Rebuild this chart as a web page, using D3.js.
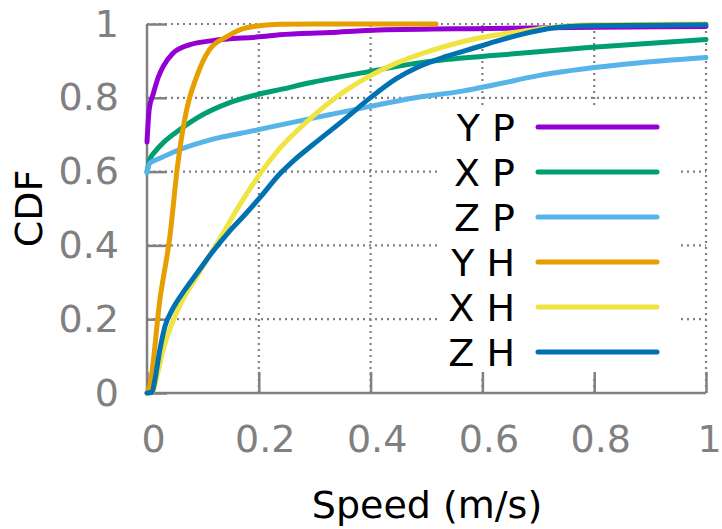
<!DOCTYPE html>
<html><head><meta charset="utf-8">
<script src="https://cdn.jsdelivr.net/npm/d3@7"></script>
<style>body{margin:0;background:#fff}svg{display:block}text{font-family:"DejaVu Sans",sans-serif}</style>
</head><body>
<svg id="c" width="722" height="529"></svg>
<script>
const seriesNames = ["Y P","X P","Z P","Y H","X H","Z H"];
const seriesColors = ["#9400d3","#009e73","#56b4e9","#e69f00","#f0e442","#0072b2"];
const xTicks = [0,0.2,0.4,0.6,0.8,1];
const yTicks = [0,0.2,0.4,0.6,0.8,1];
const xLabel = "Speed (m/s)";
const yLabel = "CDF";

// [speed, cdf] pairs
const yP = [[0,0.68],[0.004,0.77],[0.011,0.81],[0.02,0.855],[0.029,0.885],[0.046,0.92],[0.077,0.944],[0.118,0.955],[0.207,0.966],[0.237,0.971],[0.326,0.977],[0.415,0.984],[0.611,0.988],[0.8,0.991],[1,0.993]];
const xP = [[0,0.6],[0.005,0.632],[0.015,0.655],[0.029,0.678],[0.059,0.714],[0.089,0.745],[0.148,0.787],[0.198,0.809],[0.237,0.822],[0.296,0.842],[0.397,0.871],[0.474,0.892],[0.535,0.904],[0.624,0.915],[0.79,0.936],[1,0.958]];
const zP = [[0,0.597],[0.005,0.623],[0.02,0.634],[0.059,0.66],[0.118,0.688],[0.198,0.713],[0.237,0.726],[0.326,0.754],[0.397,0.776],[0.474,0.799],[0.564,0.818],[0.624,0.836],[0.7,0.86],[0.85,0.89],[1,0.909]];
const yH = [[0,0],[0.005,0.02],[0.023,0.252],[0.041,0.425],[0.055,0.62],[0.071,0.768],[0.089,0.858],[0.112,0.931],[0.143,0.966],[0.178,0.99],[0.237,0.999],[0.3,1],[0.517,1]];
const xH = [[0,0],[0.01,0.003],[0.02,0.06],[0.029,0.117],[0.055,0.225],[0.09,0.318],[0.127,0.41],[0.175,0.532],[0.205,0.6],[0.237,0.662],[0.296,0.749],[0.356,0.82],[0.397,0.858],[0.446,0.894],[0.504,0.926],[0.564,0.952],[0.624,0.97],[0.67,0.98],[0.72,0.99],[0.79,0.998],[1,1]];
const zH = [[0,0],[0.009,0.002],[0.014,0.035],[0.023,0.117],[0.032,0.18],[0.045,0.225],[0.068,0.28],[0.091,0.328],[0.116,0.38],[0.145,0.434],[0.175,0.483],[0.205,0.535],[0.237,0.593],[0.264,0.632],[0.296,0.672],[0.356,0.745],[0.397,0.797],[0.446,0.852],[0.487,0.885],[0.535,0.912],[0.594,0.939],[0.624,0.953],[0.67,0.972],[0.73,0.99],[0.79,0.995],[1,0.998]];
const seriesData = [yP,xP,zP,yH,xH,zH];

const svg = d3.select("#c");
const x = d3.scaleLinear().domain([0,1]).range([147,706]);
const y = d3.scaleLinear().domain([0,1]).range([393,24]);
const gray = "#808080";
const fs = 38;

// grid
const grid = svg.append("g");
grid.selectAll(".gx").data(xTicks.slice(1)).join("line")
  .attr("x1",d=>x(d)).attr("x2",d=>x(d)).attr("y1",y(0)).attr("y2",y(1))
  .attr("stroke","#808080").attr("stroke-width",2.2).attr("stroke-dasharray","2,4");
grid.selectAll(".gy").data(yTicks.slice(1)).join("line")
  .attr("y1",d=>y(d)).attr("y2",d=>y(d)).attr("x1",x(0)).attr("x2",x(1))
  .attr("stroke","#808080").attr("stroke-width",2.2).attr("stroke-dasharray","2,4");

// legend background
svg.append("rect").attr("x",440).attr("y",107).attr("width",238).attr("height",269).attr("fill","#fff");

// axes
const fmt = d => d===0?"0":d===1?"1":String(d);
const ax = svg.append("g").attr("transform",`translate(0,${y(0)})`)
  .call(d3.axisBottom(x).tickValues(xTicks).tickFormat(fmt).tickSizeInner(-21).tickSizeOuter(0).tickPadding(32));
const ay = svg.append("g").attr("transform",`translate(${x(0)},0)`)
  .call(d3.axisLeft(y).tickValues(yTicks).tickFormat(fmt).tickSizeInner(-20).tickSizeOuter(0).tickPadding(28));
[ax,ay].forEach(g=>{
  g.select(".domain").attr("stroke",gray).attr("stroke-width",2.5);
  g.selectAll(".tick line").attr("stroke",gray).attr("stroke-width",2.5);
  g.selectAll(".tick text").attr("fill",gray).style("font-size",fs+"px").style("font-family","DejaVu Sans");
});
ax.selectAll(".tick text").attr("dx",d=>d===1?3:6);
ay.select(".domain").attr("d",`M0,${y(0)}V${y(1)}`);
ax.select(".domain").attr("d",`M${x(0)},0H${x(1)}`);

// lines
const line = d3.line().x(d=>x(d[0])).y(d=>y(d[1])).curve(d3.curveMonotoneX);
svg.append("g").selectAll("path").data(seriesData).join("path")
  .attr("d",line).attr("fill","none")
  .attr("stroke",(d,i)=>seriesColors[i]).attr("stroke-width",5)
  .attr("stroke-linecap","round").attr("stroke-linejoin","round");

// legend
const lg = svg.append("g");
seriesNames.forEach((n,i)=>{
  const ly = 127 + i*45;
  lg.append("text").attr("x",515).attr("y",ly).attr("dy","0.36em").attr("text-anchor","end")
    .style("font-size",fs+"px").attr("fill","#000").text(n);
  lg.append("line").attr("x1",538).attr("x2",657).attr("y1",ly).attr("y2",ly)
    .attr("stroke",seriesColors[i]).attr("stroke-width",5).attr("stroke-linecap","round");
});

// axis titles
svg.append("text").attr("x",427).attr("y",518).attr("text-anchor","middle")
  .style("font-size",fs+"px").attr("fill","#000").text(xLabel);
svg.append("text").attr("transform",`translate(42,${(y(0)+y(1))/2}) rotate(-90)`).attr("text-anchor","middle")
  .style("font-size",fs+"px").attr("fill","#000").text(yLabel);
</script>
</body></html>
